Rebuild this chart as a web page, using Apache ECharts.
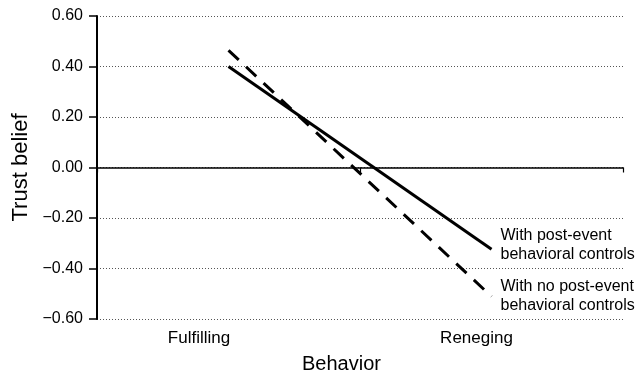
<!DOCTYPE html>
<html>
<head>
<meta charset="utf-8">
<script src="https://cdn.jsdelivr.net/npm/echarts@6/dist/echarts.min.js"></script>
<style>html,body{margin:0;padding:0;background:#fff;}#c{width:644px;height:379px;}</style>
</head>
<body>
<div id="c"></div>
<script>
const categories = ['Fulfilling', 'Reneging'];
const withControls = [0.40, -0.324];
const noControls = [0.464, -0.511];
const yTicks = [-0.6, -0.4, -0.2, 0, 0.2, 0.4, 0.6];
const seriesNames = ['With post-event\nbehavioral controls', 'With no post-event\nbehavioral controls'];

const FONT = '"Liberation Sans", Arial, sans-serif';
const chart = echarts.init(document.getElementById('c'));
const fmt = v => (v < 0 ? '\u2212' : '') + Math.abs(v).toFixed(2);

chart.setOption({
  animation: false,
  grid: { left: 97, right: 21, top: 16, bottom: 56 },
  xAxis: [
    {
      type: 'category', data: categories, boundaryGap: true, position: 'bottom',
      axisLine: { show: true, onZero: true, lineStyle: { color: '#000', width: 1.5 } },
      axisTick: { show: true, length: 5, lineStyle: { color: '#000', width: 1.2 } },
      axisLabel: { show: false },
      splitLine: { show: false }
    },
    {
      type: 'category', data: categories, boundaryGap: true, position: 'bottom',
      axisLine: { show: false, onZero: false },
      axisTick: { show: false },
      axisLabel: {
        margin: 11, color: '#000', fontFamily: FONT, fontSize: 17,
        formatter: (v, i) => (i === 0 ? '{a|' + v + '}' : '{b|' + v + '}'),
        rich: {
          a: { fontFamily: FONT, fontSize: 17, color: '#000', padding: [0, 59, 0, 0] },
          b: { fontFamily: FONT, fontSize: 17, color: '#000', padding: [0, 30, 0, 0] }
        }
      },
      name: 'Behavior', nameLocation: 'middle', nameGap: 35,
      nameTextStyle: { color: '#000', fontFamily: FONT, fontSize: 20, padding: [0, 37, 0, 0] }
    }
  ],
  yAxis: {
    type: 'value', min: -0.6, max: 0.6, interval: 0.2,
    axisLine: { show: true, lineStyle: { color: '#000', width: 2 } },
    axisTick: { show: true, length: 8, lineStyle: { color: '#000', width: 1.5 } },
    axisLabel: { color: '#000', fontFamily: FONT, fontSize: 16, margin: 14, formatter: fmt },
    splitLine: { show: true, lineStyle: { color: '#555', type: [1, 2], width: 1 } },
    name: 'Trust belief', nameLocation: 'middle', nameGap: 62, nameRotate: 90,
    nameTextStyle: { color: '#000', fontFamily: FONT, fontSize: 22 }
  },
  series: [
    {
      name: seriesNames[0], type: 'line', xAxisIndex: 0, data: withControls,
      symbol: 'none', lineStyle: { color: '#000', width: 3, type: 'solid' },
      endLabel: {
        show: true, formatter: seriesNames[0], color: '#000', fontFamily: FONT,
        fontSize: 16, lineHeight: 19, distance: 9, align: 'left', verticalAlign: 'middle', offset: [0, -4]
      },
      z: 3
    },
    {
      name: seriesNames[1], type: 'line', xAxisIndex: 0, data: noControls,
      symbol: 'none', lineStyle: { color: '#000', width: 3, type: [14, 10] },
      endLabel: {
        show: true, formatter: seriesNames[1], color: '#000', fontFamily: FONT,
        fontSize: 16, lineHeight: 19, distance: 9, align: 'left', verticalAlign: 'middle', offset: [0, 0]
      },
      z: 3
    }
  ]
});
</script>
</body>
</html>
